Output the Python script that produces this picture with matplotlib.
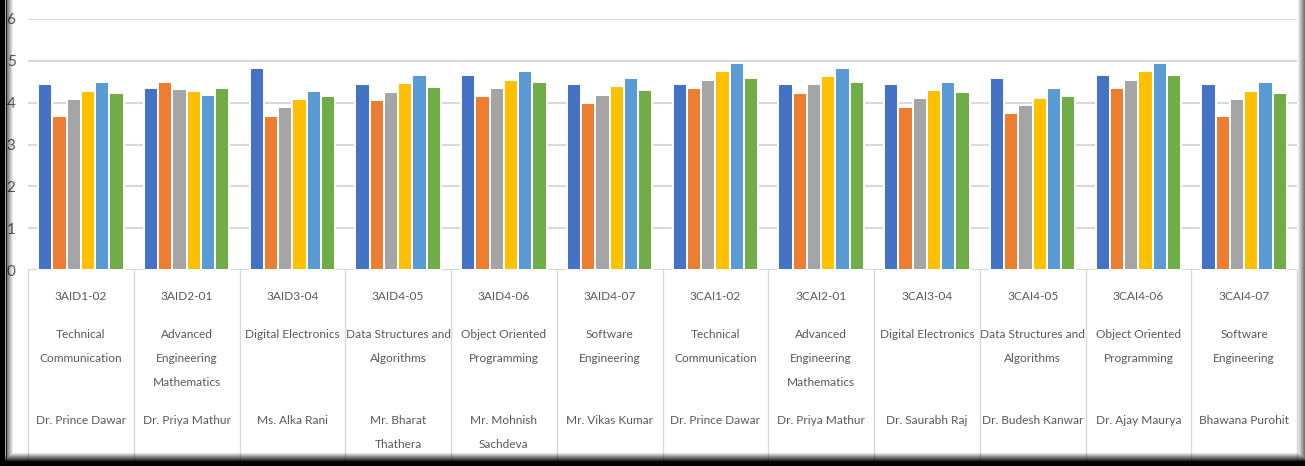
import numpy as np
import matplotlib
matplotlib.use('Agg')
import matplotlib.pyplot as plt
from matplotlib.transforms import blended_transform_factory
from matplotlib.lines import Line2D

# category axis: course code / subject / teacher
codes = ['3AID1-02', '3AID2-01', '3AID3-04', '3AID4-05', '3AID4-06', '3AID4-07',
         '3CAI1-02', '3CAI2-01', '3CAI3-04', '3CAI4-05', '3CAI4-06', '3CAI4-07']
subjects = ['Technical\nCommunication', 'Advanced\nEngineering\nMathematics', 'Digital Electronics',
            'Data Structures and\nAlgorithms', 'Object Oriented\nProgramming', 'Software\nEngineering',
            'Technical\nCommunication', 'Advanced\nEngineering\nMathematics', 'Digital Electronics',
            'Data Structures and\nAlgorithms', 'Object Oriented\nProgramming', 'Software\nEngineering']
teachers = ['Dr. Prince Dawar', 'Dr. Priya Mathur', 'Ms. Alka Rani', 'Mr. Bharat\nThathera',
            'Mr. Mohnish\nSachdeva', 'Mr. Vikas Kumar', 'Dr. Prince Dawar', 'Dr. Priya Mathur',
            'Dr. Saurabh Raj', 'Dr. Budesh Kanwar', 'Dr. Ajay Maurya', 'Bhawana Purohit']

# six feedback parameters per course
p1 = [4.44, 4.34, 4.82, 4.44, 4.65, 4.44, 4.44, 4.44, 4.44, 4.60, 4.65, 4.44]
p2 = [3.68, 4.50, 3.68, 4.06, 4.15, 3.99, 4.34, 4.22, 3.90, 3.75, 4.34, 3.68]
p3 = [4.09, 4.32, 3.90, 4.25, 4.34, 4.18, 4.53, 4.44, 4.12, 3.94, 4.53, 4.09]
p4 = [4.29, 4.29, 4.09, 4.47, 4.53, 4.41, 4.76, 4.63, 4.31, 4.12, 4.76, 4.28]
p5 = [4.50, 4.18, 4.29, 4.65, 4.76, 4.60, 4.95, 4.82, 4.50, 4.34, 4.95, 4.50]
p6 = [4.22, 4.34, 4.15, 4.37, 4.50, 4.31, 4.60, 4.50, 4.25, 4.15, 4.65, 4.22]

series = [p1, p2, p3, p4, p5, p6]
colors = ['#4472C4', '#ED7D31', '#A5A5A5', '#FFC000', '#5B9BD5', '#70AD47']

plt.rcParams['font.family'] = 'Lato'
txt_col = '#595959'
grid_col = '#d9d9d9'
fs = 8.6

W, H = 1305, 466
fig = plt.figure(figsize=(W / 100, H / 100), dpi=100)
ax = fig.add_axes([28 / W, 1 - 270 / H, (1297 - 28) / W, (270 - 19) / H])

n = len(codes)
x = np.arange(n)
step = 0.1345
for j, (vals, c) in enumerate(zip(series, colors)):
    ax.bar(x + (j - 2.5) * step, vals, width=step, color=c, edgecolor='white', linewidth=1.4, zorder=3)

ax.set_xlim(-0.5, n - 0.5)
ax.set_ylim(0, 6)
ax.set_yticks(range(7))
ax.tick_params(axis='y', length=0, pad=9, labelsize=11, labelcolor=txt_col)
ax.set_xticks([])
ax.grid(axis='y', color=grid_col, linewidth=1.5, zorder=0)
for s in ax.spines.values():
    s.set_visible(False)
ax.axhline(0, color=grid_col, linewidth=1.5, zorder=2)

# multi-level category labels below the axis
tr = blended_transform_factory(ax.transData, fig.transFigure)
kw = dict(transform=tr, ha='center', va='center', fontsize=fs, color=txt_col, clip_on=False)
for i in range(n):
    ax.text(i, 1 - 297 / H, codes[i], **kw)
    for k, line in enumerate(subjects[i].split('\n')):
        ax.text(i, 1 - (334 + 24 * k) / H, line, **kw)
    for k, line in enumerate(teachers[i].split('\n')):
        ax.text(i, 1 - (421 + 24 * k) / H, line, **kw)

for b in np.arange(n + 1) - 0.5:
    fig.add_artist(Line2D([b, b], [0, 1 - 270 / H], transform=tr, color=grid_col, linewidth=1.0))

# dark frame / shadow around the chart
ov = np.zeros((H, W, 4))
ov[:, 0:5, 3] = 1.0
ov[:, 5, 3] = 0.35
ov[:, 6, 3] = 0.9
for k, a in enumerate(np.linspace(0.5, 0.0, 7)):
    ov[:, 7 + k, 3] = np.maximum(ov[:, 7 + k, 3], a)
for k, a in enumerate(np.linspace(0.0, 0.55, 8)):
    ov[:, W - 8 + k, 3] = np.maximum(ov[:, W - 8 + k, 3], a)
for k, a in enumerate(np.linspace(0.0, 0.85, 9)):
    ov[H - 14 + k, :, 3] = np.maximum(ov[H - 14 + k, :, 3], a)
ov[H - 5:, :, 3] = 1.0

fax = fig.add_axes([0, 0, 1, 1], zorder=10)
fax.imshow(ov, extent=(0, W, H, 0), aspect='auto', interpolation='nearest')
fax.set_xlim(0, W)
fax.set_ylim(H, 0)
fax.axis('off')

fig.savefig('out.png', dpi=100)
